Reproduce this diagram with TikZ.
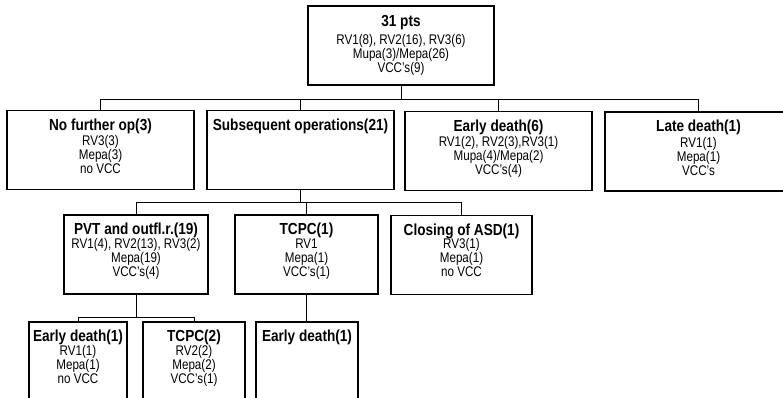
\documentclass[tikz,border=0pt]{standalone}
\usepackage{fontspec}
\setmainfont{Liberation Sans}[FakeStretch=0.83,BoldFeatures={FakeStretch=0.85}]
\begin{document}
\begin{tikzpicture}[x=1pt,y=-1pt,
  box/.style={draw=black,line width=1.8pt,rectangle,inner sep=0pt,fill=none},
  conn/.style={draw=black,line width=0.9pt},
  ttl/.style={anchor=base,inner sep=0pt,font=\fontsize{16}{16}\selectfont\bfseries},
  bdy/.style={anchor=base,inner sep=0pt,align=center,font=\fontsize{14}{14}\selectfont}]
\useasboundingbox (0,0) rectangle (783,398);
\clip (0,0) rectangle (783,398);
\fill[white] (0,0) rectangle (783,398);
% boxes
\node[box,minimum width=186pt,minimum height=79pt] (top) at (401,45.5) {};
\node[box,minimum width=187pt,minimum height=79pt] (n1) at (100.5,150) {};
\node[box,minimum width=187pt,minimum height=79pt] (n2) at (300.5,150) {};
\node[box,minimum width=187pt,minimum height=79pt] (n3) at (498.5,151) {};
\node[box,minimum width=187pt,minimum height=79pt] (n4) at (698.5,151.5) {};
\node[box,minimum width=144pt,minimum height=79pt] (p1) at (136,254.5) {};
\node[box,minimum width=143pt,minimum height=79pt] (p2) at (306.5,254.5) {};
\node[box,minimum width=141pt,minimum height=79pt] (p3) at (461.5,255) {};
\node[box,minimum width=98pt,minimum height=100pt] (q1) at (78,372) {};
\node[box,minimum width=102pt,minimum height=100pt] (q2) at (194,372) {};
\node[box,minimum width=102pt,minimum height=100pt] (q3) at (307,372) {};
% texts (body base anchor = baseline of its last line)
\node[ttl] (top-t) at ([yshift=-21pt]top.north) {31 pts};
\node[bdy] (top-b) at ([yshift=-67pt]top.north) {RV1(8), RV2(16), RV3(6)\\Mupa(3)/Mepa(26)\\VCC's(9)};
\node[ttl] (n1-t) at ([yshift=-20.5pt]n1.north) {No further op(3)};
\node[bdy] (n1-b) at ([yshift=-64pt]n1.north) {RV3(3)\\Mepa(3)\\no VCC};
\node[ttl] (n2-t) at ([yshift=-20.5pt]n2.north) {Subsequent operations(21)};
\node[ttl] (n3-t) at ([yshift=-20.5pt]n3.north) {Early death(6)};
\node[bdy] (n3-b) at ([yshift=-64pt]n3.north) {RV1(2), RV2(3),RV3(1)\\Mupa(4)/Mepa(2)\\VCC's(4)};
\node[ttl] (n4-t) at ([yshift=-20.5pt]n4.north) {Late death(1)};
\node[bdy] (n4-b) at ([yshift=-64pt]n4.north) {RV1(1)\\Mepa(1)\\VCC's};
\node[ttl] (p1-t) at ([yshift=-20.5pt]p1.north) {PVT and outfl.r.(19)};
\node[bdy] (p1-b) at ([yshift=-62pt]p1.north) {RV1(4), RV2(13), RV3(2)\\Mepa(19)\\VCC's(4)};
\node[ttl] (p2-t) at ([yshift=-20.5pt]p2.north) {TCPC(1)};
\node[bdy] (p2-b) at ([yshift=-62pt]p2.north) {RV1\\Mepa(1)\\VCC's(1)};
\node[ttl] (p3-t) at ([yshift=-20.5pt]p3.north) {Closing of ASD(1)};
\node[bdy] (p3-b) at ([yshift=-62pt]p3.north) {RV3(1)\\Mepa(1)\\no VCC};
\node[ttl] (q1-t) at ([yshift=-20pt]q1.north) {Early death(1)};
\node[bdy] (q1-b) at ([yshift=-62pt]q1.north) {RV1(1)\\Mepa(1)\\no VCC};
\node[ttl] (q2-t) at ([yshift=-20pt]q2.north) {TCPC(2)};
\node[bdy] (q2-b) at ([yshift=-62pt]q2.north) {RV2(2)\\Mepa(2)\\VCC's(1)};
\node[ttl] (q3-t) at ([yshift=-20pt]q3.north) {Early death(1)};
% connectors
\coordinate (j1) at (401,99);
\draw[conn] (top.south) -- (j1);
\draw[conn] (n1.north) -- (n1.north |- j1) -- (n4.north |- j1) -- (n4.north);
\draw[conn] (n2.north) -- (n2.north |- j1);
\draw[conn] (n3.north) -- (n3.north |- j1);
\coordinate (j2) at (300.5,202);
\draw[conn] (n2.south) -- (j2);
\draw[conn] (p1.north) -- (p1.north |- j2) -- (p3.north |- j2) -- (p3.north);
\draw[conn] (p2.north) -- (p2.north |- j2);
\coordinate (j3) at (136,317);
\draw[conn] (p1.south) -- (j3);
\draw[conn] (q1.north) -- (q1.north |- j3) -- (q2.north |- j3) -- (q2.north);
\draw[conn] (p2.south) -- (p2.south |- q3.north);
\end{tikzpicture}
\end{document}
